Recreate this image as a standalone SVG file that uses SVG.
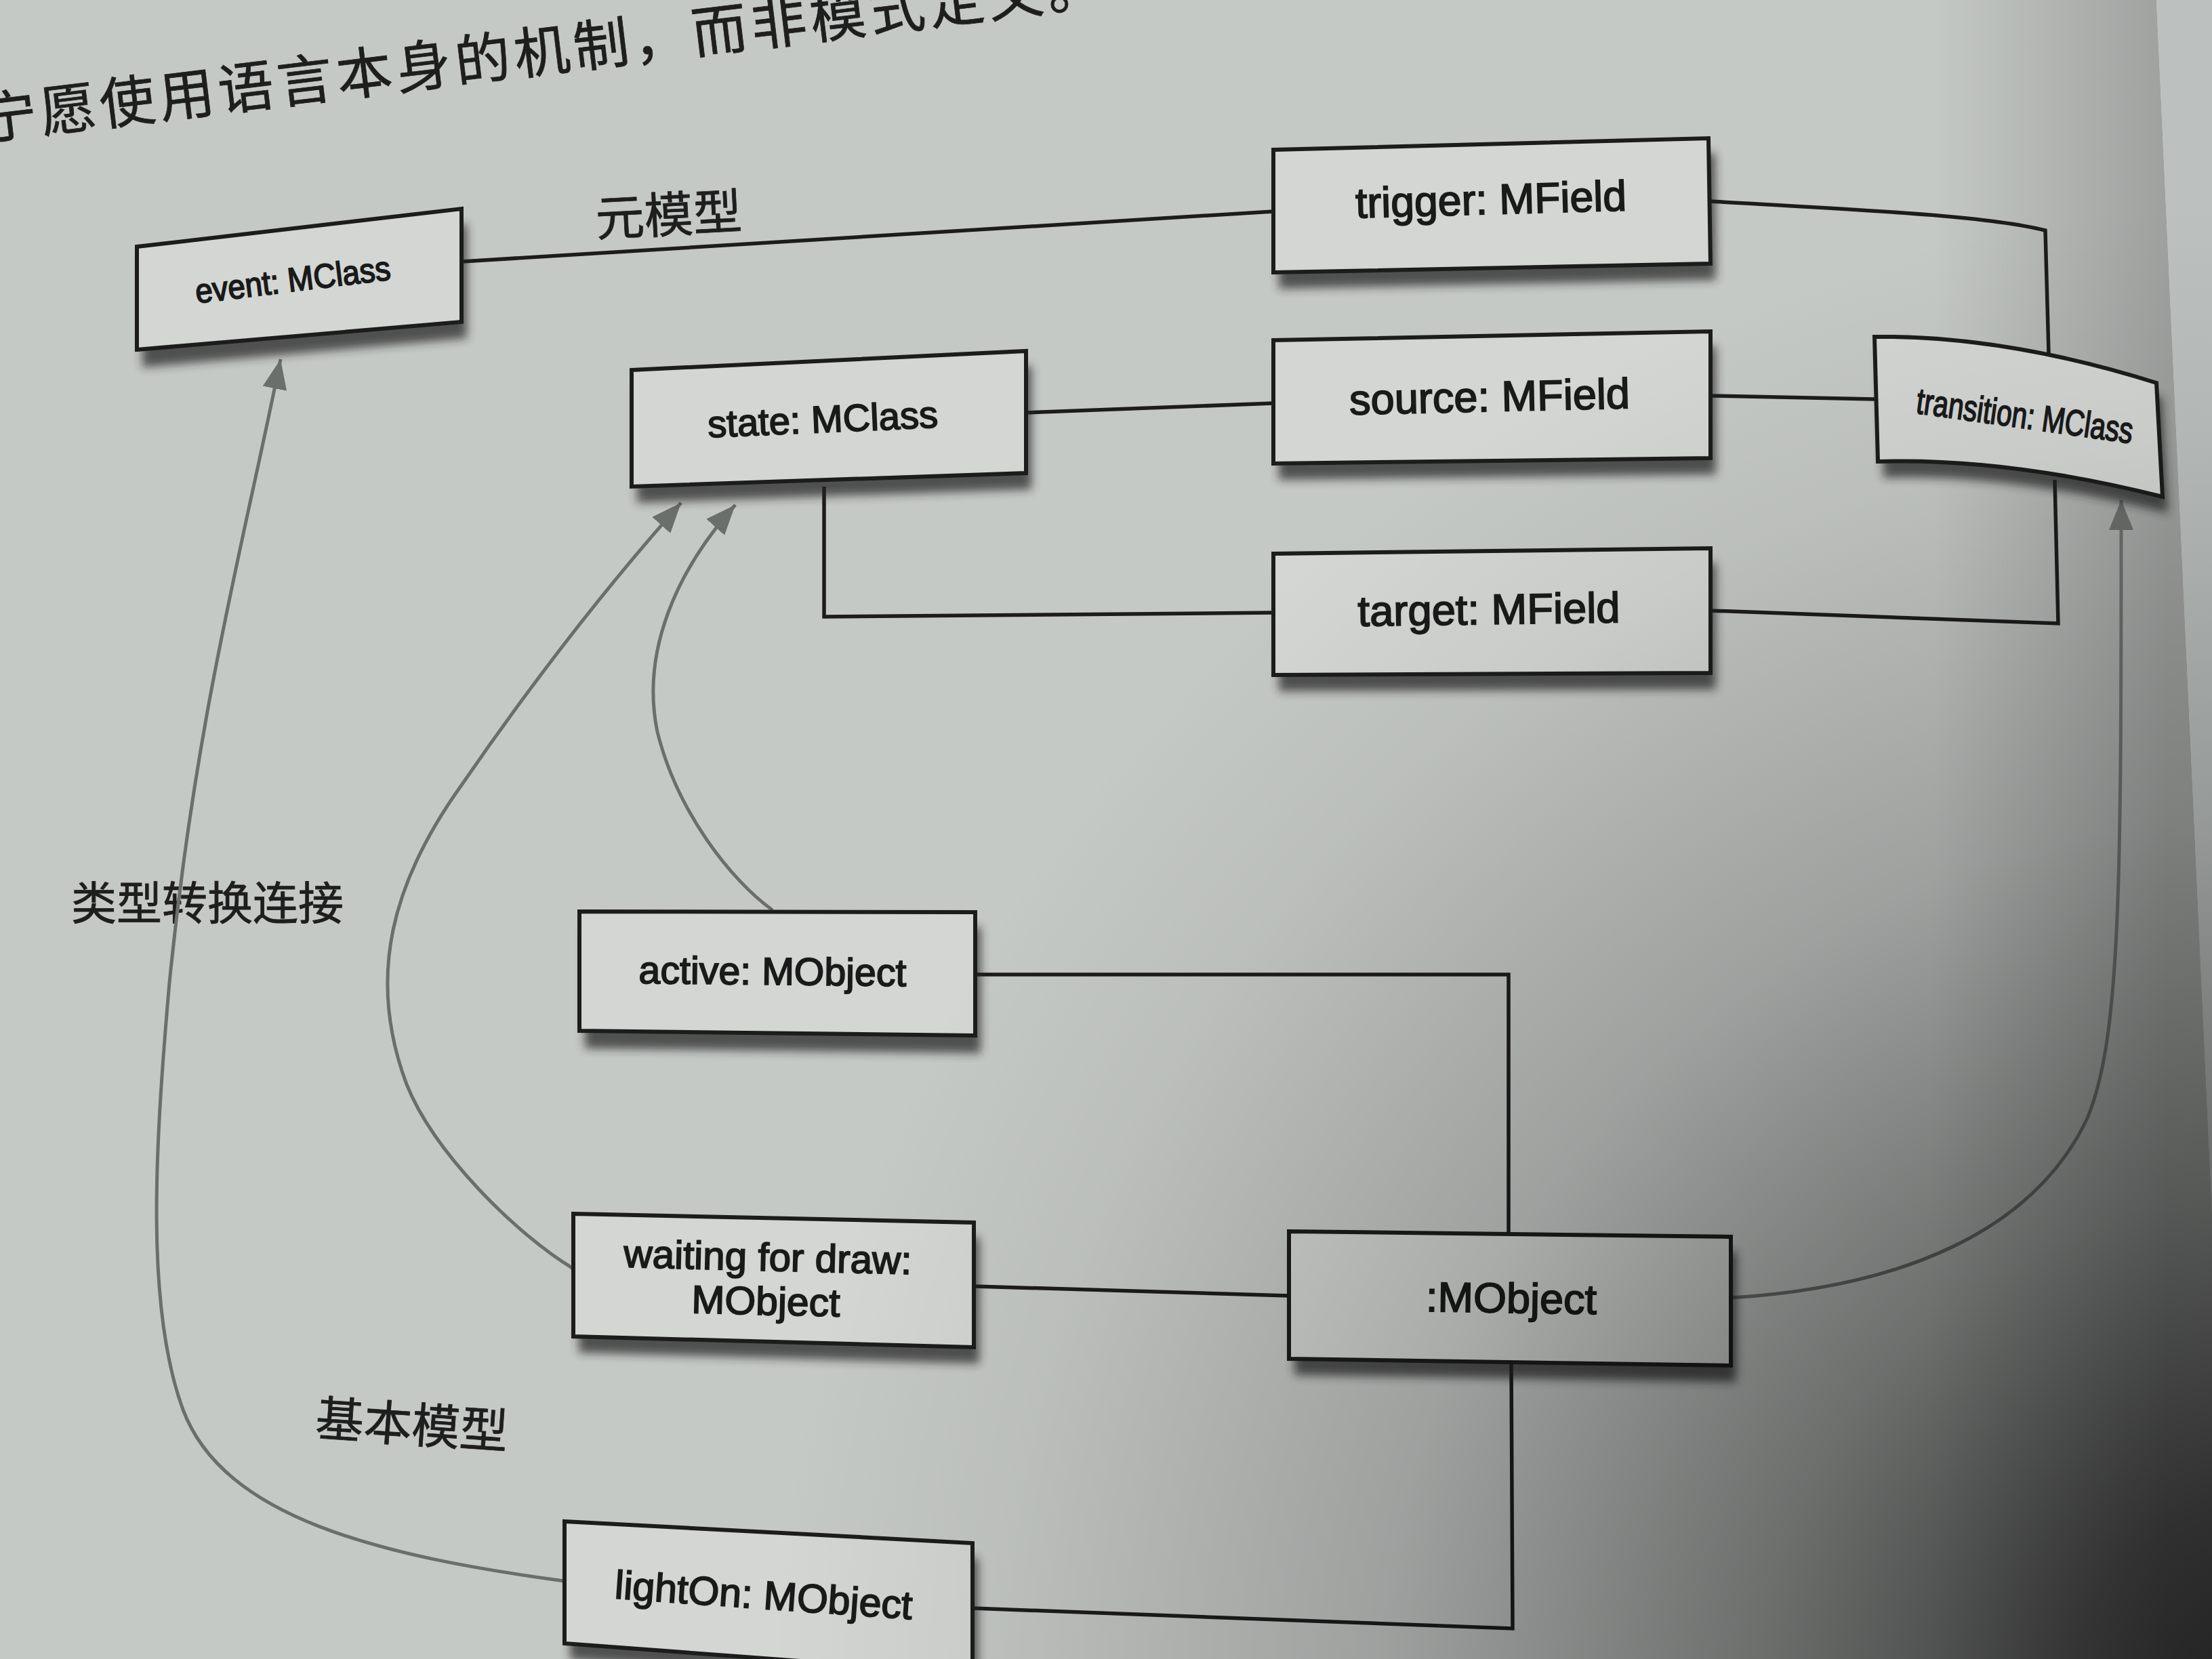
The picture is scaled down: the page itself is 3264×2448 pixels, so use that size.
<svg xmlns="http://www.w3.org/2000/svg" width="3264" height="2448" viewBox="0 0 3264 2448">
<defs>
<style>
.box{fill:#d3d6d3;stroke:#1c1c1c;stroke-width:6;stroke-linejoin:miter}
.shadow{fill:#222;opacity:.72}
.lbl{font-family:"Liberation Sans",Arial,sans-serif;fill:#1a1a1a;stroke:#1a1a1a;stroke-width:1.8;text-anchor:middle}
.cjk{font-family:"Noto Sans CJK SC","Noto Sans CJK TC",sans-serif;fill:#1e1e1e;stroke:#1e1e1e;stroke-width:.8;text-anchor:middle}
.link{fill:none;stroke:#1c1c1c;stroke-width:5.5}
.inst{fill:none;stroke:#6b6f6c;stroke-width:5;marker-end:url(#arr)}
</style>
<filter id="blur" x="-10%" y="-20%" width="130%" height="160%"><feGaussianBlur stdDeviation="7"/></filter>
<marker id="arr" markerUnits="userSpaceOnUse" markerWidth="44" markerHeight="36" refX="44" refY="18" orient="auto" viewBox="0 0 44 36"><path d="M0,0 L44,18 L0,36 z" fill="#6b6f6c"/></marker>
<radialGradient id="shade" cx="3380" cy="2540" r="2250" gradientUnits="userSpaceOnUse">
<stop offset="0" stop-color="#000" stop-opacity=".82"/>
<stop offset=".15" stop-color="#000" stop-opacity=".7"/>
<stop offset=".35" stop-color="#000" stop-opacity=".45"/>
<stop offset=".6" stop-color="#000" stop-opacity=".2"/>
<stop offset=".85" stop-color="#000" stop-opacity=".05"/>
<stop offset="1" stop-color="#000" stop-opacity="0"/>
</radialGradient>
<linearGradient id="edge" x1="2850" y1="0" x2="3200" y2="0" gradientUnits="userSpaceOnUse">
<stop offset="0" stop-color="#000" stop-opacity="0"/>
<stop offset="1" stop-color="#000" stop-opacity=".2"/>
</linearGradient>
</defs>

<rect x="0" y="0" width="3264" height="2448" fill="#c5c9c6"/>
<polygon points="2850,0 3182,0 3264,1790 3264,2448 2850,2448" fill="url(#edge)"/>
<polygon points="3182,0 3264,0 3264,1790" fill="#bcc1bf"/>

<text class="cjk" x="-24" y="206" font-size="82" letter-spacing="6" style="text-anchor:start" transform="rotate(-6.9 -24 206)">宁愿使用语言本身的机制，而非模式定义。</text>

<text class="cjk" x="988" y="343" font-size="72" transform="rotate(-3 988 343)">元模型</text>
<text class="cjk" x="306" y="1357" font-size="67">类型转换连接</text>
<text class="cjk" x="606" y="2128" font-size="71" transform="rotate(4 606 2128)">基本模型</text>

<g id="connectors">
<path class="link" d="M681,386 L1879,312"/>
<path class="link" d="M2524,297 C2750,310 2930,318 3018,340 L3023,521"/>
<path class="link" d="M1514,609 L1879,595"/>
<path class="link" d="M2524,584 L2766,589"/>
<path class="link" d="M1216,718 L1216,910 L1879,904"/>
<path class="link" d="M2524,901 L3037,920 L3032,708"/>
<path class="link" d="M1439,1438 L2226,1438 L2226,1820"/>
<path class="link" d="M1437,1898 L1902,1912"/>
<path class="link" d="M2230,2012 L2232,2403 L1435,2373"/>
<path class="inst" d="M833,2333 C560,2296 330,2240 270,2080 C215,1930 228,1700 250,1450 C290,1050 360,800 414,530"/>
<path class="inst" d="M846,1872 C760,1820 640,1700 600,1600 C540,1440 580,1300 680,1160 C790,1000 900,860 1005,742"/>
<path class="inst" d="M1140,1343 C1080,1300 1000,1200 970,1080 C945,960 1000,840 1085,745"/>
<path class="inst" d="M2554,1915 C2800,1900 3000,1820 3080,1650 C3130,1530 3130,1300 3130,738"/>
</g>

<g id="node-event">
<polygon class="shadow" filter="url(#blur)" points="210,386 689,330 689,499 210,542"/>
<polygon class="box" points="202,364 681,308 681,475 202,516"/>
<text class="lbl" x="432" y="430" font-size="50" textLength="290" lengthAdjust="spacingAndGlyphs" transform="rotate(-7 432 413)">event: MClass</text>
</g>

<g id="node-trigger">
<polygon class="shadow" filter="url(#blur)" points="1887,243 2531,226 2532,413 1887,426"/>
<polygon class="box" points="1879,221 2521,204 2524,389 1879,402"/>
<text class="lbl" x="2200" y="316" font-size="63" textLength="400" lengthAdjust="spacingAndGlyphs" transform="rotate(-1.6 2200 296)">trigger: MField</text>
</g>

<g id="node-state">
<polygon class="shadow" filter="url(#blur)" points="940,568 1522,540 1522,722 940,742"/>
<polygon class="box" points="932,546 1514,518 1514,698 932,718"/>
<text class="lbl" x="1214" y="638" font-size="56" textLength="340" lengthAdjust="spacingAndGlyphs" transform="rotate(-2.5 1214 618)">state: MClass</text>
</g>

<g id="node-source">
<polygon class="shadow" filter="url(#blur)" points="1887,524 2532,511 2532,700 1887,708"/>
<polygon class="box" points="1879,502 2524,489 2524,676 1879,684"/>
<text class="lbl" x="2198" y="607" font-size="63" textLength="414" lengthAdjust="spacingAndGlyphs" transform="rotate(-1.3 2198 586)">source: MField</text>
</g>

<g id="node-transition">
<path class="shadow" filter="url(#blur)" d="M2774,519 Q2968,517 3190,587 L3199,757 Q2968,699 2779,705 Z"/>
<path class="box" d="M2766,497 Q2960,495 3182,565 L3191,733 Q2960,675 2771,681 Z"/>
<text class="lbl" x="2988" y="632" font-size="54" textLength="322" lengthAdjust="spacingAndGlyphs" transform="rotate(8 2988 614)">transition: MClass</text>
</g>

<g id="node-target">
<polygon class="shadow" filter="url(#blur)" points="1887,839 2532,831 2532,1017 1887,1020"/>
<polygon class="box" points="1879,817 2524,809 2524,993 1879,996"/>
<text class="lbl" x="2197" y="921" font-size="63" textLength="387" lengthAdjust="spacingAndGlyphs" transform="rotate(-0.8 2197 900)">target: MField</text>
</g>

<g id="node-active">
<polygon class="shadow" filter="url(#blur)" points="863,1367 1447,1368 1447,1554 863,1547"/>
<polygon class="box" points="855,1345 1439,1346 1439,1528 855,1521"/>
<text class="lbl" x="1140" y="1453" font-size="57" textLength="395" lengthAdjust="spacingAndGlyphs" transform="rotate(0.6 1140 1433)">active: MObject</text>
</g>

<g id="node-waiting">
<polygon class="shadow" filter="url(#blur)" points="854,1813 1445,1826 1445,2012 854,1996"/>
<polygon class="box" points="846,1791 1437,1804 1437,1988 846,1972"/>
<text class="lbl" x="1133" y="1875" font-size="58" textLength="425" lengthAdjust="spacingAndGlyphs" transform="rotate(1.4 1133 1855)">waiting for draw:</text>
<text class="lbl" x="1130" y="1940" font-size="58" textLength="219" lengthAdjust="spacingAndGlyphs" transform="rotate(1.4 1130 1920)">MObject</text>
</g>

<g id="node-mobject">
<polygon class="shadow" filter="url(#blur)" points="1910,1839 2562,1847 2562,2039 1910,2029"/>
<polygon class="box" points="1902,1817 2554,1825 2554,2015 1902,2005"/>
<text class="lbl" x="2230" y="1937" font-size="62" textLength="252" lengthAdjust="spacingAndGlyphs" transform="rotate(0.9 2230 1916)">:MObject</text>
</g>

<g id="node-lighton">
<polygon class="shadow" filter="url(#blur)" points="841,2267 1443,2299 1443,2490 841,2449"/>
<polygon class="box" points="833,2245 1435,2277 1435,2470 833,2425"/>
<text class="lbl" x="1127" y="2374" font-size="59" textLength="440" lengthAdjust="spacingAndGlyphs" transform="rotate(4 1127 2353)">lightOn: MObject</text>
</g>

<rect x="0" y="0" width="3264" height="2448" fill="url(#shade)" pointer-events="none"/>
</svg>
